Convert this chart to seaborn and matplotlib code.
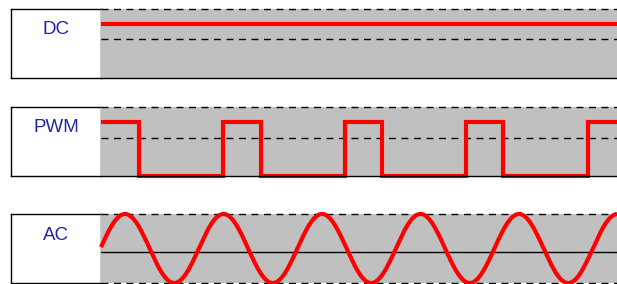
import matplotlib
matplotlib.use('Agg')
import matplotlib.pyplot as plt
import seaborn as sns
import numpy as np
import pandas as pd

# signal names shown in the label boxes
labels = ['DC', 'PWM', 'AC']

# DC level (fraction of panel height)
dc_t = [0, 516]
dc_v = [0.78, 0.78]

# PWM edges (x in px from the panel's left edge)
pwm_t = [0, 38, 122, 160, 244, 281, 365, 402, 487, 516]
pwm_v = [0.78, 0.0, 0.78, 0.0, 0.78, 0.0, 0.78, 0.0, 0.78, 0.78]

# AC sine: first peak, period, centre, amplitude
ac_peak = 24
ac_period = 98.5
ac_centre = 0.5
ac_amp = 0.5

# guide lines: dashed middle line per panel, AC has a solid one
mid_dashed = [0.565, 0.55, None]
mid_solid = [None, None, 0.45]

W, H = 617, 284
# panel extents in pixels (top, bottom)
panels = [(9, 78), (107, 176), (214, 283)]
box_left, box_right = 11, 101

sns.set_style('white')
plt.rcParams['font.family'] = ['Liberation Sans', 'DejaVu Sans']

fig = plt.figure(figsize=(W / 100, H / 100), dpi=100)

ac_t = np.arange(0, 517)
ac_v = ac_centre + ac_amp * np.cos(2 * np.pi * (ac_t - ac_peak) / ac_period)

signals = [
    pd.DataFrame({'t': dc_t, 'v': dc_v}),
    pd.DataFrame({'t': pwm_t, 'v': pwm_v}),
    pd.DataFrame({'t': ac_t, 'v': ac_v}),
]

for i, (top, bot) in enumerate(panels):
    y0 = 1 - bot / H
    h = (bot - top) / H

    # label box
    axl = fig.add_axes([box_left / W, y0, (box_right - box_left) / W, h])
    axl.set_xticks([])
    axl.set_yticks([])
    axl.set_facecolor('white')
    for s in axl.spines.values():
        s.set_color('black')
        s.set_linewidth(1.0)
        s.set_visible(True)
    axl.text(0.5, 1 - 21 / (bot - top), labels[i], ha='center', va='center',
             color='#2424a8', fontsize=13.5, transform=axl.transAxes)

    # signal panel
    ax = fig.add_axes([box_right / W, y0, (W - box_right) / W, h])
    ax.set_facecolor('#c0c0c0')
    ax.set_xlim(0, 516)
    ax.set_ylim(0, 1)
    ax.set_xticks([])
    ax.set_yticks([])
    for s in ['top', 'right', 'left']:
        ax.spines[s].set_visible(False)
    ax.spines['bottom'].set_visible(i < 2)
    ax.spines['bottom'].set_color('black')
    ax.spines['bottom'].set_linewidth(1.0)

    ax.axhline(1, color='black', lw=1.0, ls=(0, (5, 4)), clip_on=False)
    if i == 2:
        ax.axhline(0, color='black', lw=1.0, ls=(0, (5, 4)), clip_on=False)
    if mid_dashed[i] is not None:
        ax.axhline(mid_dashed[i], color='black', lw=1.0, ls=(0, (5, 4)))
    if mid_solid[i] is not None:
        ax.axhline(mid_solid[i], color='black', lw=1.0)

    kw = dict(drawstyle='steps-post') if i == 1 else {}
    sns.lineplot(data=signals[i], x='t', y='v', ax=ax, color='#ff0000',
                 linewidth=3.0, clip_on=False, solid_capstyle='butt',
                 solid_joinstyle='miter', legend=False, **kw)
    ax.set_xlabel('')
    ax.set_ylabel('')
    ax.set_xlim(0, 516)
    ax.set_ylim(0, 1)

fig.savefig('out.png', dpi=100)
